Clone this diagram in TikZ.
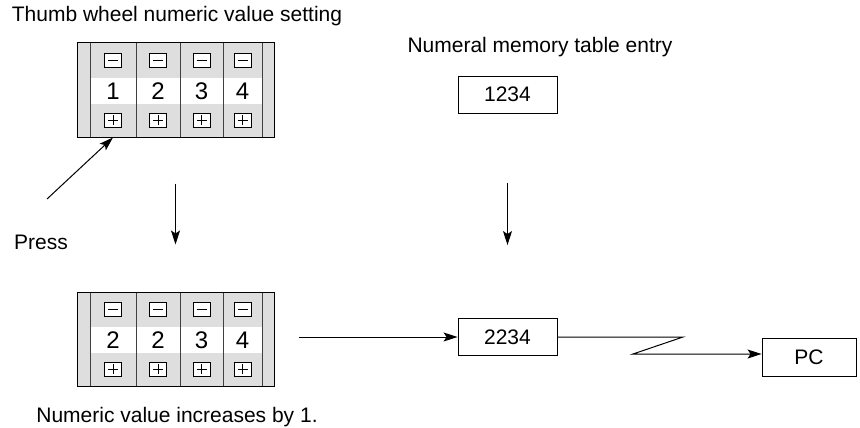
\documentclass[tikz,border=0pt]{standalone}
\usepackage{fontspec}
\setmainfont{Liberation Sans}
\usetikzlibrary{arrows.meta}
\definecolor{wheelgrey}{gray}{0.87}

\begin{document}
\begin{tikzpicture}[x=1pt,y=-1pt,>={Stealth[length=14pt,width=9pt,inset=3pt]},line join=miter]
\tikzset{
  txt/.style={font=\fontsize{21}{25}\selectfont,inner sep=0pt},
  digit/.style={font=\fontsize{24}{28}\selectfont,inner sep=0pt},
  valbox/.style={draw,line width=0.9pt,minimum width=99pt,minimum height=37pt,inner sep=0pt,font=\fontsize{21}{25}\selectfont},
  wheelbox/.style={draw,line width=1pt,minimum width=197pt,minimum height=94pt,inner sep=0pt},
  divline/.style={line width=0.8pt,black!75},
  conn/.style={line width=1pt},
  btn/.style={draw,fill=white,line width=0.8pt,minimum width=17pt,minimum height=14pt,inner sep=0pt},
  minusbtn/.style={btn,path picture={\draw[line width=0.6pt] ([xshift=-5pt]path picture bounding box.center) -- ([xshift=5pt]path picture bounding box.center);}},
  plusbtn/.style={btn,path picture={\draw[line width=0.6pt] ([xshift=-5pt]path picture bounding box.center) -- ([xshift=5pt]path picture bounding box.center) ([yshift=-5pt]path picture bounding box.center) -- ([yshift=5pt]path picture bounding box.center);}}
}
\useasboundingbox (0,0) rectangle (860,428);

% upper thumb wheel
\fill[wheelgrey] (77,43) rectangle (274,137);
\fill[white] (90,78) rectangle (262,104);
\foreach \x in {90,136,180,223,262}
  \draw[divline] (\x,43) -- (\x,137);
\node[wheelbox] (wA) at (175.5,90) {};
\foreach \cx/\d [count=\i] in {113/1,158/2,201.5/3,242.5/4} {
  \node[minusbtn] (mA\i) at (\cx,60) {};
  \node[digit] (dA\i) at (\cx,91) {\d};
  \node[plusbtn] (pA\i) at (\cx,120) {};
}

% lower thumb wheel
\fill[wheelgrey] (77,292) rectangle (274,386);
\fill[white] (90,327) rectangle (262,353);
\foreach \x in {90,136,180,223,262}
  \draw[divline] (\x,292) -- (\x,386);
\node[wheelbox] (wB) at (175.5,339) {};
\foreach \cx/\d [count=\i] in {113/2,158/2,201.5/3,242.5/4} {
  \node[minusbtn] (mB\i) at (\cx,309) {};
  \node[digit] (dB\i) at (\cx,340) {\d};
  \node[plusbtn] (pB\i) at (\cx,369) {};
}

% memory table and PC
\node[valbox] (m1) at (507.5,94.5) {1234};
\node[valbox] (m2) at (507.5,337) {2234};
\node[valbox,minimum width=94pt,minimum height=38pt] (pc) at (809,357) {PC};
\coordinate (z1) at (683,337);
\coordinate (z2) at (633,354);
\coordinate (pressfrom) at (47,199);

% texts
\node[txt,anchor=base] (title) at (177,22) {Thumb wheel numeric value setting};
\node[txt,anchor=base] (memtitle) at (540,53) {Numeral memory table entry};
\node[txt,anchor=base] (note) at (177,422) {Numeric value increases by 1.};
\node[txt] (press) at (41,242) {Press};

% arrows
\draw[->,conn] (pressfrom) -- (pA1.south |- wA.south);
\draw[->,conn,shorten <=46pt,shorten >=47pt] (wA.south) -- (wB.north);
\draw[->,conn,shorten <=70pt,shorten >=73pt] (m1.south) -- (m2.north);
\draw[->,conn,shorten <=24pt] (m2.west -| wB.east) -- (m2.west);
\draw[->,conn] (m2.east) -- (z1) -- (z2) -- (z2 -| pc.west);
\end{tikzpicture}
\end{document}
